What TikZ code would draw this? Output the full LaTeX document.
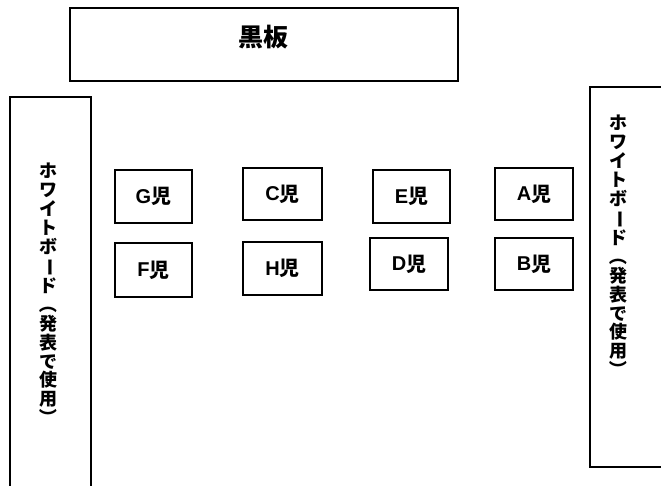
\documentclass[tikz,border=0pt]{standalone}
\usepackage{fontspec}
\usepackage{graphicx}
\newfontfamily\jp{Noto Sans CJK JP}
\newfontfamily\lat{Liberation Sans}
\newcommand\vrot[1]{\rotatebox[origin=c]{-90}{#1}}
\newcommand\seatlbl[1]{\raisebox{0.5pt}{\lat\bfseries\fontsize{20}{24}\selectfont #1}児}
\begin{document}
\begin{tikzpicture}[x=1pt,y=-1pt,line width=1.6pt,
  frame/.style={draw,inner sep=0pt},
  seat/.style={draw,minimum width=78pt,minimum height=53pt,inner sep=0pt,font=\jp\bfseries\fontsize{20}{24}\selectfont},
  vtext/.style={align=center,inner sep=0pt,font=\jp\bfseries\fontsize{18}{18.9}\selectfont},
  title/.style={inner sep=0pt,font=\jp\bfseries\fontsize{25}{28}\selectfont}]
\useasboundingbox (0,0) rectangle (661,486);
% blackboard
\node[frame,minimum width=388pt,minimum height=73pt] (board) at (264,44.5) {};
\node[title] (boardlabel) at (263,37) {黒板};
% whiteboards
\coordinate (lwa) at (10,486);
\coordinate (lwb) at (10,97);
\coordinate (lwc) at (91,97);
\coordinate (lwd) at (91,486);
\draw (lwa) -- (lwb) -- (lwc) -- (lwd);
\coordinate (rwa) at (661,87);
\coordinate (rwb) at (590,87);
\coordinate (rwc) at (590,467);
\coordinate (rwd) at (661,467);
\draw (rwa) -- (rwb) -- (rwc) -- (rwd);
\node[vtext] (lwtext) at (48,295) {ホ\\ワ\\イ\\ト\\ボ\\\vrot{ー}\\ド\\\vrot{（}\\発\\表\\で\\使\\用\\\vrot{）}};
\node[vtext] (rwtext) at (618,247) {ホ\\ワ\\イ\\ト\\ボ\\\vrot{ー}\\ド\\\vrot{（}\\発\\表\\で\\使\\用\\\vrot{）}};
% seats
\node[seat,minimum width=77pt] (G) at (153.5,196.5) {\seatlbl{G}};
\node[seat,minimum width=79pt,minimum height=52pt] (C) at (282.5,194) {\seatlbl{C}};
\node[seat,minimum width=77pt] (E) at (411.5,196.5) {\seatlbl{E}};
\node[seat,minimum height=52pt] (A) at (534,194) {\seatlbl{A}};
\node[seat,minimum width=77pt,minimum height=54pt] (F) at (153.5,270) {\seatlbl{F}};
\node[seat,minimum width=79pt] (H) at (282.5,268.5) {\seatlbl{H}};
\node[seat,minimum height=52pt] (D) at (409,264) {\seatlbl{D}};
\node[seat,minimum height=52pt] (B) at (534,264) {\seatlbl{B}};
\end{tikzpicture}
\end{document}
